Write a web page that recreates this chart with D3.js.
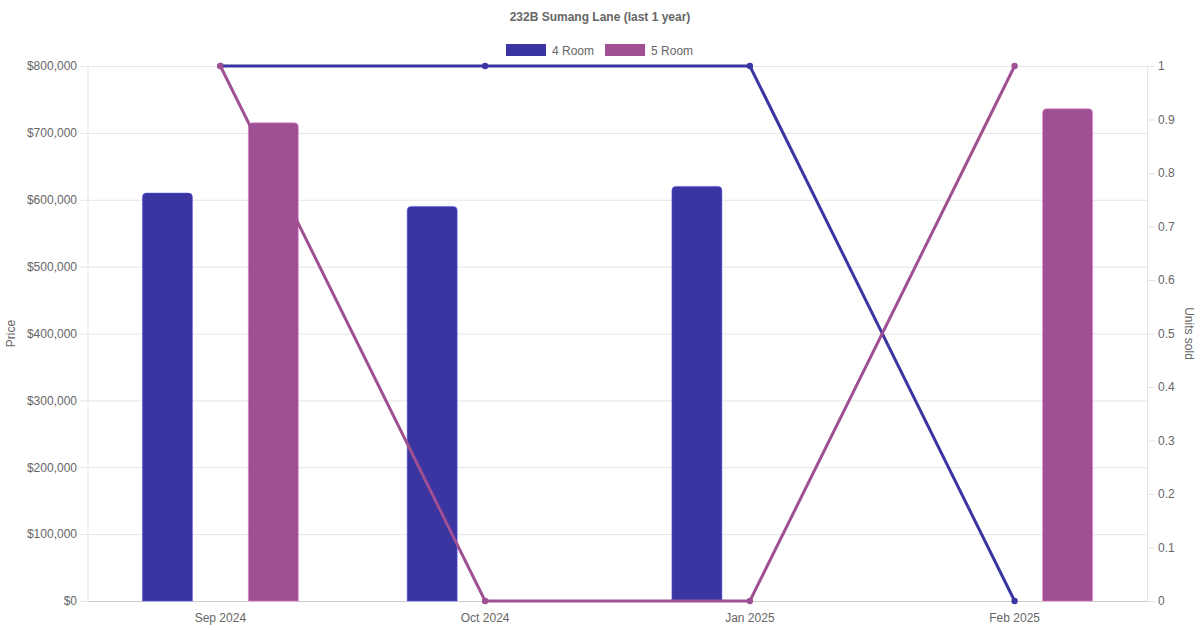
<!DOCTYPE html>
<html>
<head>
<meta charset="utf-8">
<script src="https://cdn.jsdelivr.net/npm/d3@7"></script>
<style>
  body { margin: 0; background: #fff; }
  svg text { font-family: "Liberation Sans", Arial, sans-serif; }
</style>
</head>
<body>
<svg id="chart" width="1200" height="630"></svg>
<script>
// chart data
var months = ["Sep 2024", "Oct 2024", "Jan 2025", "Feb 2025"];
var seriesNames = ["4 Room", "5 Room"];
var colors = ["#3A35A0", "#9F5092"];
var price4Room = [610000, 590000, 620000, null];
var price5Room = [715000, null, null, 736000];
var units4Room = [1, 1, 1, 0];
var units5Room = [1, 0, 0, 1];
var priceTicks = [0, 100000, 200000, 300000, 400000, 500000, 600000, 700000, 800000];
var unitTicks = [0, 0.1, 0.2, 0.3, 0.4, 0.5, 0.6, 0.7, 0.8, 0.9, 1];

var svg = d3.select('#chart');
var margin = { left: 88, right: 53, top: 66, bottom: 29 };
var width = 1200, height = 630;
var innerW = width - margin.left - margin.right;
var innerH = height - margin.top - margin.bottom;
var textColor = '#666';

var g = svg.append('g').attr('transform', `translate(${margin.left},${margin.top})`);

let xScale = d3.scaleBand().domain(months).range([0, innerW]);
let xSub = d3.scaleBand().domain(seriesNames).range([0, xScale.bandwidth() * 0.8]);
let yPrice = d3.scaleLinear().domain([0, 800000]).range([innerH, 0]);
let yUnits = d3.scaleLinear().domain([0, 1]).range([innerH, 0]);

// left axis + grid
let yAxis = g.append('g');
yAxis.call(d3.axisLeft(yPrice).tickValues(priceTicks)
    .tickFormat(d => '$' + d3.format(',')(d))
    .tickSize(8).tickPadding(3));
yAxis.select('.domain').remove();
yAxis.selectAll('.tick line').attr('stroke', '#e5e5e5');
yAxis.selectAll('.tick').append('line')
    .attr('x2', innerW).attr('stroke', '#e5e5e5');
yAxis.selectAll('.tick text')
    .style('font-size', '12px').attr('fill', textColor);
g.append('line').attr('x1', 0).attr('x2', 0).attr('y1', 0).attr('y2', innerH)
    .attr('stroke', '#e5e5e5');

// right axis
let yAxisR = g.append('g').attr('transform', `translate(${innerW},0)`);
yAxisR.call(d3.axisRight(yUnits).tickValues(unitTicks)
    .tickFormat(d => d3.format('~g')(d))
    .tickSize(8).tickPadding(3));
yAxisR.select('.domain').attr('stroke', '#e5e5e5');
yAxisR.selectAll('.tick line').attr('stroke', '#e5e5e5');
yAxisR.selectAll('.tick text')
    .style('font-size', '12px').attr('fill', textColor);

// x axis
let xAxis = g.append('g').attr('transform', `translate(0,${innerH})`);
xAxis.call(d3.axisBottom(xScale).tickSize(0).tickPadding(12));
xAxis.select('.domain').attr('stroke', '#cccccc');
xAxis.selectAll('.tick text')
    .style('font-size', '12px').attr('fill', textColor);

// bars
var priceData = [price4Room, price5Room];
var r = 4;
function barPath(x, y, w, h) {
    return `M${x},${y + h}V${y + r}Q${x},${y} ${x + r},${y}H${x + w - r}Q${x + w},${y} ${x + w},${y + r}V${y + h}Z`;
}
seriesNames.forEach((name, si) => {
    var bw = 50;
    g.selectAll('.bar' + si)
        .data(months.map((m, i) => ({ m: m, v: priceData[si][i] })).filter(d => d.v != null))
        .enter().append('path')
        .attr('d', d => {
            var cx = xScale(d.m) + xScale.bandwidth() * 0.1 + xSub(name) + xSub.bandwidth() / 2;
            return barPath(cx - bw / 2, yPrice(d.v), bw, innerH - yPrice(d.v));
        })
        .attr('fill', colors[si])
        .attr('stroke', d3.color(colors[si]).brighter(1.2))
        .attr('stroke-opacity', 0.5)
        .attr('stroke-width', 1);
});

// lines
var unitData = [units4Room, units5Room];
let singleLine = d3.line()
    .x(d => xScale(d.m) + xScale.bandwidth() / 2)
    .y(d => yUnits(d.v));
seriesNames.forEach((name, si) => {
    var pts = months.map((m, i) => ({ m: m, v: unitData[si][i] }));
    g.append('path')
        .datum(pts)
        .style('fill', 'none')
        .style('stroke', colors[si])
        .style('stroke-width', 3)
        .attr('d', singleLine);
    g.selectAll('.pt' + si).data(pts).enter().append('circle')
        .attr('cx', d => xScale(d.m) + xScale.bandwidth() / 2)
        .attr('cy', d => yUnits(d.v))
        .attr('r', 3.2)
        .attr('fill', colors[si]);
});

// title
svg.append('text')
    .attr('x', width / 2).attr('y', 21)
    .attr('text-anchor', 'middle')
    .style('font-size', '12px').style('font-weight', 'bold')
    .attr('fill', textColor)
    .text('232B Sumang Lane (last 1 year)');

// legend
var legend = svg.append('g').attr('transform', 'translate(506,44)');
var lx = 0;
seriesNames.forEach((name, si) => {
    legend.append('rect').attr('x', lx).attr('y', 0).attr('width', 40).attr('height', 12)
        .attr('fill', colors[si]);
    var t = legend.append('text').attr('x', lx + 46).attr('y', 10.5)
        .style('font-size', '12px').attr('fill', textColor).text(name);
    lx += 46 + t.node().getComputedTextLength() + 11;
});

// axis titles
svg.append('text')
    .attr('transform', `translate(15,${margin.top + innerH / 2}) rotate(-90)`)
    .attr('text-anchor', 'middle')
    .style('font-size', '12px').attr('fill', textColor)
    .text('Price');
svg.append('text')
    .attr('transform', `translate(1185,${margin.top + innerH / 2}) rotate(90)`)
    .attr('text-anchor', 'middle')
    .style('font-size', '12px').attr('fill', textColor)
    .text('Units sold');
</script>
</body>
</html>
